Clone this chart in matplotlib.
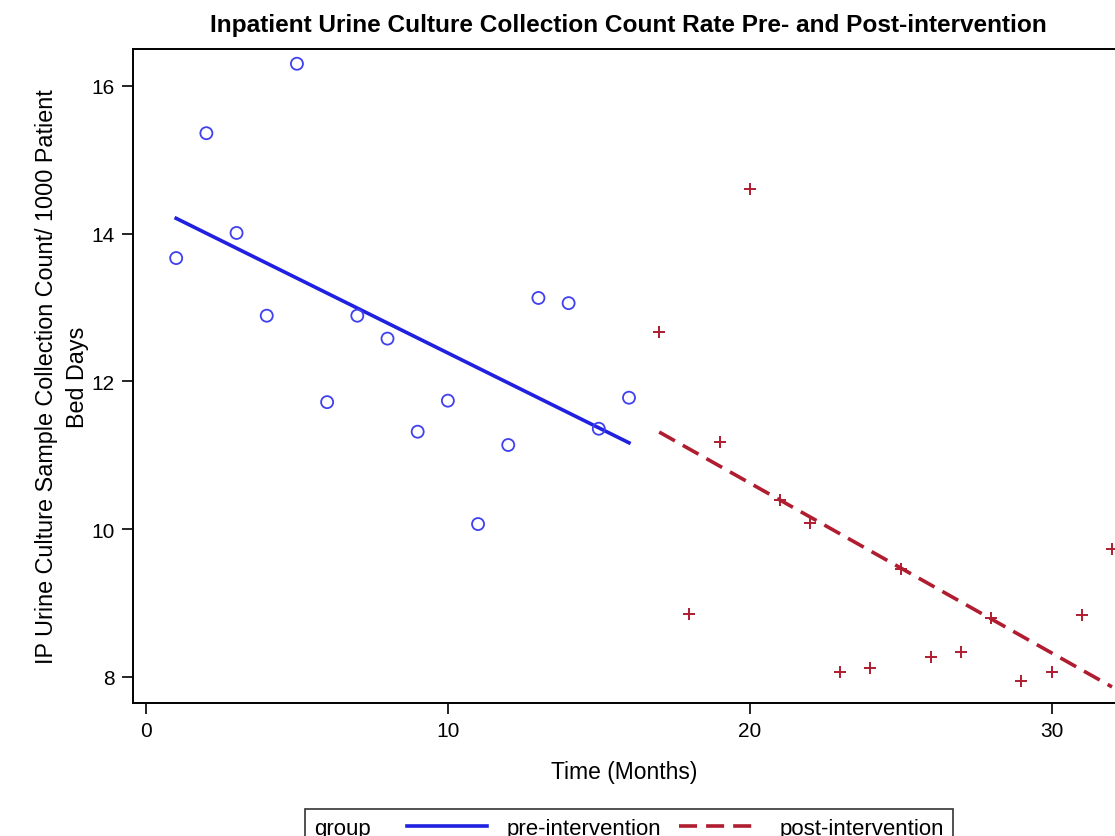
import numpy as np
import matplotlib
matplotlib.use("Agg")
import matplotlib.pyplot as plt
from matplotlib.lines import Line2D
from matplotlib.offsetbox import DrawingArea

plt.rcParams['font.family'] = ['Liberation Sans', 'DejaVu Sans']

pre_months = [1, 2, 3, 4, 5, 6, 7, 8, 9, 10, 11, 12, 13, 14, 15, 16]
pre_rate = [13.67, 15.36, 14.01, 12.89, 16.30, 11.72, 12.89, 12.58,
            11.32, 11.74, 10.07, 11.14, 13.13, 13.06, 11.36, 11.78]
post_months = [17, 18, 19, 20, 21, 22, 23, 24, 25, 26, 27, 28, 29, 30, 31, 32]
post_rate = [12.67, 8.85, 11.18, 14.61, 10.40, 10.09, 8.07, 8.12,
             9.46, 8.27, 8.34, 8.80, 7.95, 8.07, 8.84, 9.73]

blue = '#2020e0'
red = '#b01c30'

fig = plt.figure(figsize=(11.15, 8.37), dpi=100)
ax = fig.add_axes([0.1193, 0.1589, 0.8807, 0.7814])

ax.scatter(pre_months, pre_rate, s=75, facecolors='none', edgecolors='#4040f0', linewidths=1.3, zorder=3)
ax.scatter(post_months, post_rate, s=75, marker='+', color=red, linewidths=1.4, zorder=3)

# linear fits per group
for xs, ys, c, ls in [(pre_months, pre_rate, blue, '-'), (post_months, post_rate, red, (0, (5, 2.5)))]:
    k, b = np.polyfit(xs, ys, 1)
    xx = np.array([xs[0], xs[-1]])
    ax.plot(xx, k * xx + b, color=c, linestyle=ls, linewidth=2.6, zorder=2)

ax.set_xlim(-0.43, 32.1)
ax.set_ylim(7.648, 16.5)
ax.set_xticks([0, 10, 20, 30])
ax.set_yticks([8, 10, 12, 14, 16])
ax.tick_params(length=8, width=1.2, labelsize=15, pad=5)
ax.spines['right'].set_visible(False)
for s in ['left', 'bottom', 'top']:
    ax.spines[s].set_linewidth(1.4)

ax.set_xlabel('Time (Months)', fontsize=16.5, labelpad=14)
ax.set_ylabel('IP Urine Culture Sample Collection Count/ 1000 Patient\nBed Days', fontsize=16.8,
              labelpad=2, linespacing=1.45)
fig.text(0.564, 0.970, 'Inpatient Urine Culture Collection Count Rate Pre- and Post-intervention',
         ha='center', va='center', fontsize=17.6, fontweight='bold')

handles = [Line2D([], [], color=blue, linewidth=2.6),
           Line2D([], [], color=red, linewidth=2.6, linestyle=(0, (5, 2.5)))]
leg = fig.legend(handles, ['pre-intervention', 'post-intervention'], ncol=2, title='group',
                 loc='upper center', bbox_to_anchor=(0.564, 0.0323), fontsize=16,
                 title_fontsize=16, frameon=True, fancybox=False, edgecolor='black',
                 handlelength=3.6, columnspacing=0.2, handletextpad=0.9, borderpad=0.4,
                 borderaxespad=0)
leg.get_frame().set_linewidth(1.2)
# put the title to the left of the entries
vp = leg.get_children()[0]
title_box, hbox = vp.get_children()
vp._children = [hbox]
hbox._children.insert(0, title_box)
hbox._children.insert(1, DrawingArea(0, 1))
hbox.sep = 13

fig.savefig('out.png', dpi=100)
